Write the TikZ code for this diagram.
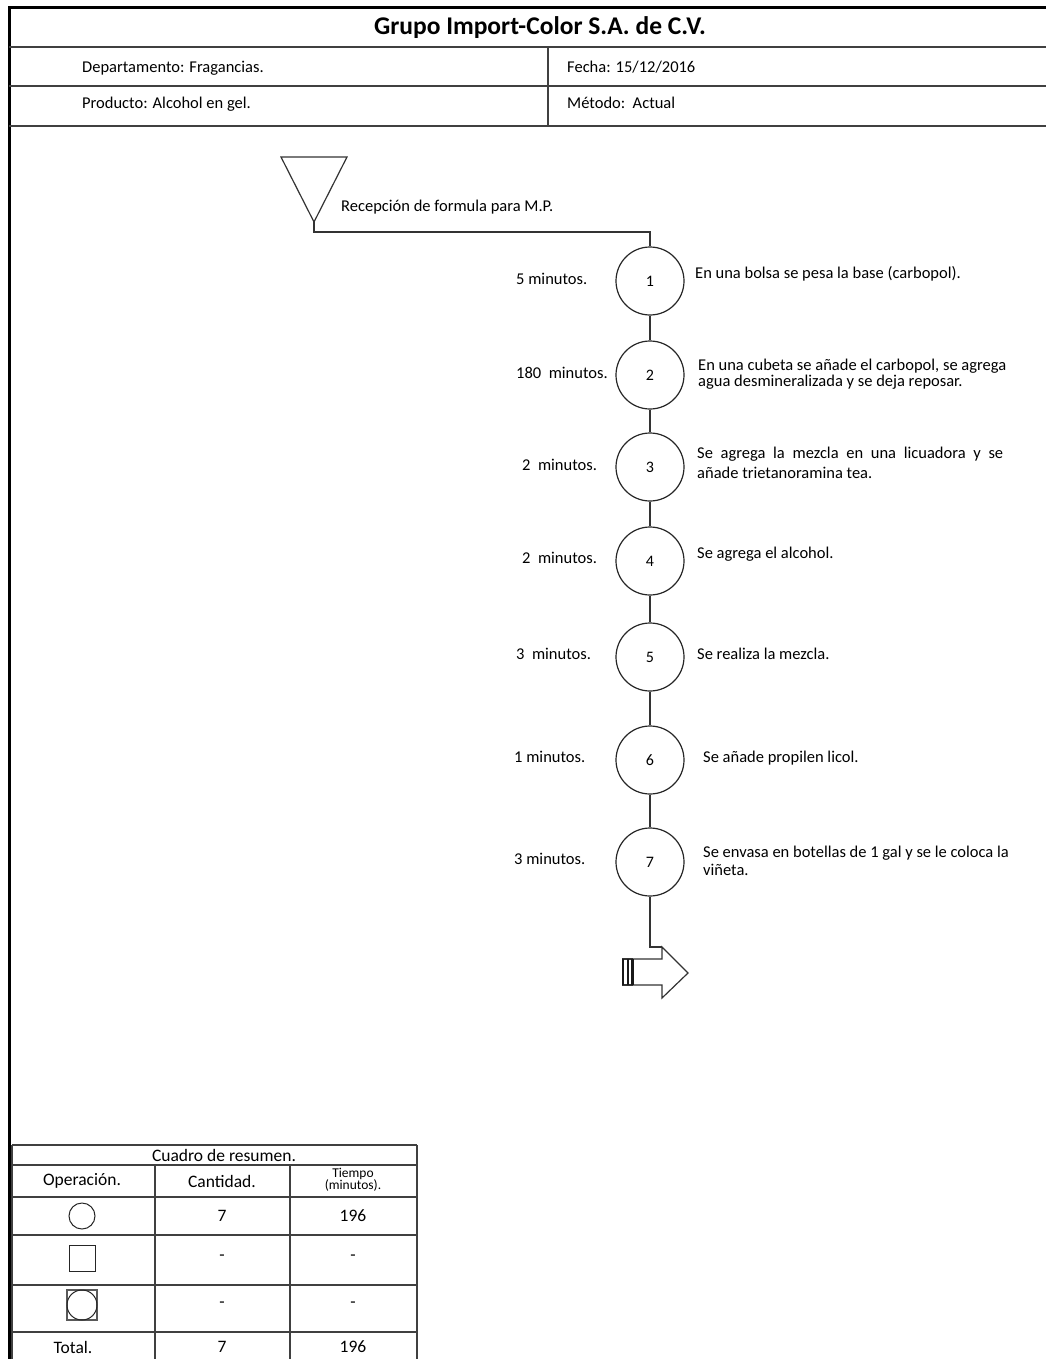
\documentclass[tikz,border=0pt]{standalone}
\usepackage{fontspec}
\setmainfont{Carlito}
\begin{document}
\begin{tikzpicture}[x=1pt,y=-1pt,
  ln/.style={draw=black!80, line width=1.2pt},
  frame/.style={draw=black, line width=3pt},
  rule/.style={draw=black!75, line width=1.2pt},
  opc/.style={circle, draw=black!85, fill=white, line width=1.2pt, minimum size=68pt, inner sep=0pt, font=\fontsize{16}{18}\selectfont},
  txt/.style={anchor=mid west, inner sep=0pt, font=\fontsize{16.5}{19}\selectfont},
  mtxt/.style={anchor=west, inner sep=0pt, align=left},
  hdr/.style={anchor=mid west, inner sep=0pt, font=\fontsize{16.5}{19}\selectfont},
  ttl/.style={inner sep=0pt, font=\fontsize{25.5}{30}\selectfont\bfseries},
  cell/.style={inner sep=0pt, font=\fontsize{17.5}{20}\selectfont},
  small/.style={inner sep=0pt, font=\fontsize{13.5}{15}\selectfont, align=center},
  tsym/.style={draw=black!85, line width=1pt, inner sep=0pt},
  bar/.style={draw=black!90, line width=2.2pt}
]
\useasboundingbox (0,0) rectangle (1046,1359);
\fill[white] (0,0) rectangle (1046,1359);

% frame and header
\draw[frame] (9,1359) -- (9,8) -- (1046,8);
\draw[rule] (9,47) -- (1046,47);
\draw[rule] (9,86) -- (1046,86);
\draw[rule, line width=1.8pt] (9,126) -- (1046,126);
\draw[rule] (548,47) -- (548,126);
\node[ttl] (title) at (540,28) {Grupo Import-Color S.A. de C.V.};
\node[hdr] (dep) at (82,70) {Departamento: Fragancias.};
\node[hdr] (fec) at (567,70) {Fecha: 15/12/2016};
\node[hdr] (pro) at (82,106) {Producto: Alcohol en gel.};
\node[hdr] (met) at (567,106) {Método:\ \ Actual};

% storage triangle
\coordinate (tri) at (314,222);
\coordinate (bend) at (314,232);
\draw[ln] (281,157) -- (347,157) -- (tri) -- cycle;
\node[txt] (rec) at (341,209) {Recepción de formula para M.P.};

% operations
\node[opc] (c1) at (650,281) {1};
\node[opc] (c2) at (650,375) {2};
\node[opc] (c3) at (650,467) {3};
\node[opc] (c4) at (650,561) {4};
\node[opc] (c5) at (650,657) {5};
\node[opc] (c6) at (650,760) {6};
\node[opc] (c7) at (650,862) {7};

\draw[ln] (tri) -- (bend) -| (c1);
\draw[ln] (c1) -- (c2);
\draw[ln] (c2) -- (c3);
\draw[ln] (c3) -- (c4);
\draw[ln] (c4) -- (c5);
\draw[ln] (c5) -- (c6);
\draw[ln] (c6) -- (c7);

% times
\node[txt] (t1) at (516,282) {5 minutos.};
\node[txt] (t2) at (516,376) {180\ \ minutos.};
\node[txt] (t3) at (522,468) {2\ \ minutos.};
\node[txt] (t4) at (522,561) {2\ \ minutos.};
\node[txt] (t5) at (516,657) {3\ \ minutos.};
\node[txt] (t6) at (514,760) {1 minutos.};
\node[txt] (t7) at (514,862) {3 minutos.};

% descriptions
\node[txt] (d1) at (695,276) {En una bolsa se pesa la base (carbopol).};
\node[mtxt, font=\fontsize{16.5}{16}\selectfont] (d2) at (698,374) {En una cubeta se añade el carbopol, se agrega\\agua desmineralizada y se deja reposar.};
\node[mtxt, font=\fontsize{16.5}{20}\selectfont] (d3) at (697,463) {\makebox[306pt][s]{Se agrega la mezcla en una licuadora y se}\\añade trietanoramina tea.};
\node[txt] (d4) at (697,556) {Se agrega el alcohol.};
\node[txt] (d5) at (697,657) {Se realiza la mezcla.};
\node[txt] (d6) at (703,760) {Se añade propilen licol.};
\node[mtxt, font=\fontsize{16.5}{18}\selectfont] (d7) at (703,861) {Se envasa en botellas de 1 gal y se le coloca la\\viñeta.};

% end arrow
\coordinate (ahead) at (662,947);
\draw[ln] (c7) |- (ahead);
\draw[ln, line join=miter] (633,959) -- (662,959) -- (ahead) -- (688,973) -- (662,998) -- (662,985) -- (633,985);
\draw[ln] (622,959) -- (633,959);
\draw[ln] (622,985) -- (633,985);
\draw[bar] (623,959) -- (623,985);
\draw[bar] (628,959) -- (628,985);
\draw[bar] (632.5,959) -- (632.5,985);

% summary table
\draw[rule] (12,1145) -- (417,1145);
\draw[rule] (12,1165) -- (417,1165);
\draw[rule] (12,1197) -- (417,1197);
\draw[rule] (12,1235) -- (417,1235);
\draw[rule] (12,1285) -- (417,1285);
\draw[rule] (12,1332) -- (417,1332);
\draw[rule] (12,1145) -- (12,1359);
\draw[rule] (417,1145) -- (417,1359);
\draw[rule] (155,1165) -- (155,1359);
\draw[rule] (290,1165) -- (290,1359);

\node[cell] (cuadro) at (224,1155) {Cuadro de resumen.};
\node[cell] (hop) at (82,1181) {Operación.};
\node[cell] (hca) at (222,1181) {Cantidad.};
\node[small] (hti) at (353,1180) {Tiempo\\[-3pt](minutos).};

\node[tsym, circle, minimum size=26pt] (s1) at (82,1216) {};
\node[tsym, rectangle, minimum size=26pt] (s2) at (82,1258) {};
\node[tsym, rectangle, draw=black!65, line width=1.6pt, minimum size=30pt] (s3) at (82,1305) {};
\node[tsym, circle, minimum size=30pt] (s3c) at (82,1305) {};

\node[cell] (q1) at (222,1216) {7};
\node[cell] (m1) at (353,1216) {196};
\node[cell] (q2) at (222,1258) {-};
\node[cell] (m2) at (353,1258) {-};
\node[cell] (q3) at (222,1305) {-};
\node[cell] (m3) at (353,1305) {-};
\node[cell] (tot) at (73,1347) {Total.};
\node[cell] (q4) at (222,1347) {7};
\node[cell] (m4) at (353,1347) {196};
\end{tikzpicture}
\end{document}
